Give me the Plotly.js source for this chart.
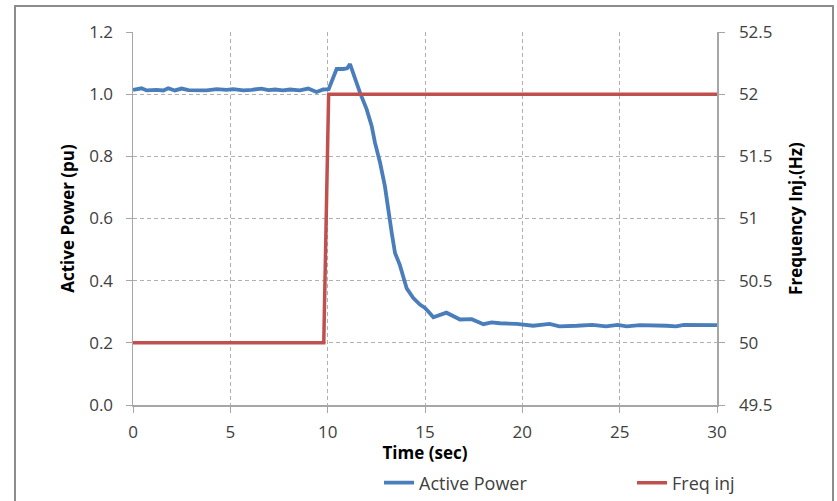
<!DOCTYPE html>
<html>
<head>
<meta charset="utf-8">
<script src="https://cdn.plot.ly/plotly-3.0.1.min.js"></script>
<style>
  html, body { margin: 0; padding: 0; background: #ffffff; }
  #wrap { position: relative; width: 837px; height: 501px; overflow: hidden; }
  #chart { width: 837px; height: 501px; }
  #frame { position: absolute; left: 14px; top: 5px; width: 816px; height: 520px;
           border: 2px solid #8c8c8c; pointer-events: none; }
</style>
</head>
<body>
<div id="wrap">
  <div id="chart"></div>
  <div id="frame"></div>
</div>
<script>
// ---- data ----
const timePower = [0, 0.44, 0.7, 1.2, 1.56, 1.81, 2.15, 2.5, 2.85, 3.44, 3.78, 4.3, 4.8, 5.15, 5.67, 6.1, 6.6, 6.95, 7.3, 7.7, 8.06, 8.57, 9.0, 9.43, 9.77, 10.05, 10.46, 10.8, 11.0, 11.15, 11.4, 11.66, 12.0, 12.26, 12.43, 12.69, 12.94, 13.11, 13.29, 13.46, 13.71, 14.06, 14.4, 14.74, 15.0, 15.17, 15.43, 16.1, 16.45, 16.8, 17.4, 18.0, 18.42, 18.85, 19.7, 20.56, 21.4, 21.9, 22.8, 23.6, 24.3, 24.9, 25.36, 26.04, 27.4, 27.9, 28.3, 29.1, 30];
const activePower = [1.014, 1.019, 1.012, 1.014, 1.012, 1.019, 1.012, 1.018, 1.013, 1.014, 1.012, 1.016, 1.014, 1.016, 1.012, 1.014, 1.018, 1.013, 1.015, 1.012, 1.015, 1.012, 1.018, 1.007, 1.015, 1.016, 1.081, 1.081, 1.083, 1.097, 1.048, 1.005, 0.952, 0.898, 0.844, 0.780, 0.704, 0.640, 0.554, 0.489, 0.450, 0.375, 0.344, 0.323, 0.312, 0.301, 0.282, 0.297, 0.285, 0.275, 0.276, 0.260, 0.266, 0.263, 0.261, 0.255, 0.261, 0.253, 0.255, 0.258, 0.253, 0.258, 0.253, 0.257, 0.255, 0.253, 0.258, 0.258, 0.257];
const timeFreq = [0, 9.8, 10.05, 30];
const freqInj = [50, 50, 52, 52];
const xTicks = [0, 5, 10, 15, 20, 25, 30];
const yTicks = [0.0, 0.2, 0.4, 0.6, 0.8, 1.0, 1.2];
const y2Ticks = [49.5, 50, 50.5, 51, 51.5, 52, 52.5];

const FONT = '"Open Sans", Lato, sans-serif';
const tickFont = { family: FONT, size: 17, color: '#404040' };
const titleFont = { family: FONT, size: 17, color: '#000000', weight: 'bold' };
const legendFont = { family: FONT, size: 18, color: '#404040' };
const gridColor = '#b0b0b0';
const axisColor = '#a6a6a6';

const traces = [
  { x: timePower, y: activePower, type: 'scatter', mode: 'lines', name: 'Active Power',
    line: { color: '#4a7ebb', width: 3.8 }, yaxis: 'y', legend: 'legend' },
  { x: timeFreq, y: freqInj, type: 'scatter', mode: 'lines', name: 'Freq inj',
    line: { color: '#c0504d', width: 3.5 }, yaxis: 'y2', legend: 'legend2' }
];

const layout = {
  width: 837, height: 501,
  paper_bgcolor: '#ffffff', plot_bgcolor: '#ffffff',
  margin: { l: 133, r: 120, t: 32, b: 96 },
  showlegend: true,
  xaxis: {
    range: [0, 30], tickvals: xTicks, ticktext: xTicks.map(String),
    showgrid: true, gridcolor: gridColor, griddash: '4px,3px', gridwidth: 1,
    showline: true, linecolor: axisColor, linewidth: 1.5,
    ticks: 'outside', ticklen: 6, tickcolor: axisColor, ticklabelstandoff: 5,
    tickfont: tickFont, zeroline: false, automargin: false,
    title: { text: 'Time (sec)', font: titleFont, standoff: 7 }
  },
  yaxis: {
    range: [0, 1.2], tickvals: yTicks, ticktext: yTicks.map(v => v.toFixed(1)),
    showgrid: true, gridcolor: gridColor, griddash: '4px,3px', gridwidth: 1,
    showline: true, linecolor: axisColor, linewidth: 1.5,
    ticks: 'outside', ticklen: 6, tickcolor: axisColor, ticklabelstandoff: 9,
    tickfont: tickFont, zeroline: false, automargin: false,
    title: { text: 'Active Power (pu)', font: titleFont, standoff: 10 }
  },
  yaxis2: {
    overlaying: 'y', side: 'right',
    range: [49.5, 52.5], tickvals: y2Ticks, ticktext: y2Ticks.map(String),
    showgrid: false, showline: true, linecolor: axisColor, linewidth: 1.5,
    ticks: 'outside', ticklen: 6, tickcolor: axisColor, ticklabelstandoff: 11,
    tickfont: tickFont, zeroline: false, automargin: false,
    title: { text: 'Frequency Inj.(Hz)', font: titleFont, standoff: 18 }
  },
  legend: {
    x: (379 - 133) / 584, xref: 'paper', y: (501 - 483) / 501, yref: 'container',
    xanchor: 'left', yanchor: 'middle',
    orientation: 'h', font: legendFont,
    bgcolor: 'rgba(0,0,0,0)', borderwidth: 0
  },
  legend2: {
    x: (632 - 133) / 584, xref: 'paper', y: (501 - 483) / 501, yref: 'container',
    xanchor: 'left', yanchor: 'middle',
    orientation: 'h', font: legendFont,
    bgcolor: 'rgba(0,0,0,0)', borderwidth: 0
  }
};

Plotly.newPlot('chart', traces, layout, { displayModeBar: false, staticPlot: true });
</script>
</body>
</html>
